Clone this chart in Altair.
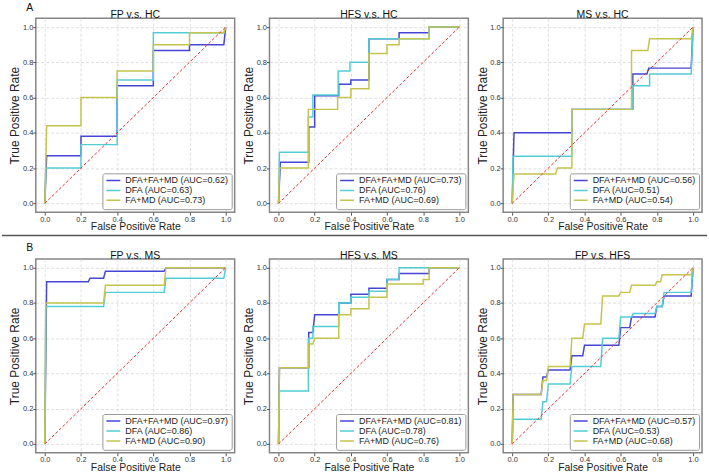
import altair as alt
import pandas as pd

# ---- ROC curve vertices (false positive rate / true positive rate) ----
# FP v.s. HC
fp_hc_all_x = [0, 0.01, 0.2, 0.2, 0.4, 0.4, 0.6, 0.6, 0.8, 0.8, 0.99, 1.0]
fp_hc_all_y = [0, 0.27, 0.27, 0.38, 0.38, 0.667, 0.667, 0.867, 0.867, 0.9, 0.9, 1.0]
fp_hc_dfa_x = [0, 0.005, 0.2, 0.2, 0.4, 0.4, 0.6, 0.6, 0.99, 1.0]
fp_hc_dfa_y = [0, 0.2, 0.2, 0.333, 0.333, 0.7, 0.7, 0.967, 0.967, 1.0]
fp_hc_famd_x = [0, 0.01, 0.2, 0.2, 0.4, 0.4, 0.6, 0.6, 0.8, 0.8, 0.99, 1.0]
fp_hc_famd_y = [0, 0.44, 0.44, 0.6, 0.6, 0.75, 0.75, 0.9, 0.9, 0.967, 0.967, 1.0]

# HFS v.s. HC
hfs_hc_all_x = [0, 0.01, 0.167, 0.167, 0.2, 0.2, 0.333, 0.333, 0.4, 0.4, 0.5, 0.5, 0.667, 0.667, 0.833, 0.833, 1.0]
hfs_hc_all_y = [0, 0.233, 0.233, 0.433, 0.433, 0.61, 0.61, 0.675, 0.675, 0.7, 0.7, 0.933, 0.933, 0.967, 0.967, 1.0, 1.0]
hfs_hc_dfa_x = [0, 0.005, 0.165, 0.165, 0.19, 0.19, 0.33, 0.33, 0.395, 0.395, 0.5, 0.5, 0.833, 0.833, 1.0]
hfs_hc_dfa_y = [0, 0.29, 0.29, 0.49, 0.49, 0.615, 0.615, 0.75, 0.75, 0.8, 0.8, 0.933, 0.933, 1.0, 1.0]
hfs_hc_famd_x = [0, 0.005, 0.165, 0.165, 0.327, 0.327, 0.4, 0.4, 0.5, 0.5, 0.6, 0.6, 0.667, 0.667, 0.833, 0.833, 1.0]
hfs_hc_famd_y = [0, 0.2, 0.2, 0.533, 0.533, 0.6, 0.6, 0.65, 0.65, 0.85, 0.85, 0.9, 0.9, 0.933, 0.933, 1.0, 1.0]

# MS v.s. HC
ms_hc_all_x = [0, 0.01, 0.33, 0.33, 0.667, 0.667, 0.745, 0.755, 0.99, 1.0]
ms_hc_all_y = [0, 0.4, 0.4, 0.533, 0.533, 0.733, 0.733, 0.767, 0.767, 1.0]
ms_hc_dfa_x = [0, 0.005, 0.33, 0.33, 0.667, 0.667, 0.76, 0.76, 0.99, 1.0]
ms_hc_dfa_y = [0, 0.267, 0.267, 0.533, 0.533, 0.667, 0.667, 0.733, 0.733, 1.0]
ms_hc_famd_x = [0, 0.01, 0.24, 0.25, 0.33, 0.33, 0.66, 0.66, 0.75, 0.76, 0.99, 1.0]
ms_hc_famd_y = [0, 0.167, 0.167, 0.2, 0.2, 0.533, 0.533, 0.867, 0.867, 0.933, 0.933, 1.0]

# FP v.s. MS
fp_ms_all_x = [0, 0.01, 0.24, 0.25, 0.325, 0.335, 0.66, 0.67, 1.0]
fp_ms_all_y = [0, 0.92, 0.92, 0.94, 0.94, 0.98, 0.98, 1.0, 1.0]
fp_ms_dfa_x = [0, 0.005, 0.325, 0.335, 0.66, 0.67, 0.99, 1.0]
fp_ms_dfa_y = [0, 0.78, 0.78, 0.86, 0.86, 0.94, 0.94, 1.0]
fp_ms_famd_x = [0, 0.005, 0.325, 0.335, 0.66, 0.67, 1.0]
fp_ms_famd_y = [0, 0.8, 0.8, 0.9, 0.9, 1.0, 1.0]

# HFS v.s. MS
hfs_ms_all_x = [0, 0.005, 0.167, 0.167, 0.19, 0.2, 0.333, 0.333, 0.4, 0.4, 0.5, 0.5, 0.6, 0.6, 0.667, 0.667, 0.833, 0.833, 1.0]
hfs_ms_all_y = [0, 0.433, 0.433, 0.633, 0.633, 0.733, 0.733, 0.8, 0.8, 0.85, 0.85, 0.883, 0.883, 0.933, 0.933, 0.967, 0.967, 1.0, 1.0]
hfs_ms_dfa_x = [0, 0.005, 0.165, 0.165, 0.19, 0.19, 0.333, 0.333, 0.4, 0.4, 0.5, 0.5, 0.6, 0.6, 0.667, 0.667, 1.0]
hfs_ms_dfa_y = [0, 0.3, 0.3, 0.6, 0.6, 0.667, 0.667, 0.8, 0.8, 0.833, 0.833, 0.867, 0.867, 0.933, 0.933, 1.0, 1.0]
hfs_ms_famd_x = [0, 0.005, 0.165, 0.165, 0.19, 0.2, 0.333, 0.333, 0.4, 0.4, 0.5, 0.5, 0.6, 0.6, 0.8, 0.8, 0.833, 0.833, 1.0]
hfs_ms_famd_y = [0, 0.433, 0.433, 0.567, 0.567, 0.6, 0.6, 0.733, 0.733, 0.767, 0.767, 0.833, 0.833, 0.907, 0.907, 0.933, 0.933, 1.0, 1.0]

# FP v.s. HFS
fp_hfs_all_x = [0, 0.005, 0.16, 0.17, 0.19, 0.2, 0.32, 0.33, 0.39, 0.4, 0.59, 0.6, 0.65, 0.66, 0.79, 0.8, 0.83, 0.84, 0.99, 1.0]
fp_hfs_all_y = [0, 0.28, 0.28, 0.38, 0.38, 0.42, 0.42, 0.5, 0.5, 0.56, 0.56, 0.66, 0.66, 0.72, 0.72, 0.78, 0.78, 0.84, 0.84, 1.0]
fp_hfs_dfa_x = [0, 0.005, 0.16, 0.17, 0.19, 0.2, 0.32, 0.33, 0.49, 0.5, 0.59, 0.6, 0.66, 0.67, 0.79, 0.8, 0.83, 0.84, 0.99, 1.0]
fp_hfs_dfa_y = [0, 0.14, 0.14, 0.24, 0.24, 0.34, 0.34, 0.44, 0.44, 0.6, 0.6, 0.72, 0.72, 0.74, 0.74, 0.78, 0.78, 0.86, 0.86, 1.0]
fp_hfs_famd_x = [0, 0.005, 0.16, 0.17, 0.19, 0.2, 0.32, 0.33, 0.39, 0.4, 0.49, 0.5, 0.59, 0.6, 0.65, 0.66, 0.79, 0.8, 0.82, 0.83, 0.99, 1.0]
fp_hfs_famd_y = [0, 0.28, 0.28, 0.36, 0.36, 0.44, 0.44, 0.6, 0.6, 0.68, 0.68, 0.84, 0.84, 0.86, 0.86, 0.9, 0.9, 0.92, 0.92, 0.96, 0.96, 1.0]

# ---- panel titles, model names, AUC values ----
panel_titles = ["FP v.s. HC", "HFS v.s. HC", "MS v.s. HC", "FP v.s. MS", "HFS v.s. MS", "FP v.s. HFS"]
model_names = ["DFA+FA+MD", "DFA", "FA+MD"]
auc_values = [
    [0.62, 0.63, 0.73],
    [0.73, 0.76, 0.69],
    [0.56, 0.51, 0.54],
    [0.97, 0.86, 0.90],
    [0.81, 0.78, 0.76],
    [0.57, 0.53, 0.68],
]
model_colors = ["#4646d6", "#52cdd6", "#c4c44e"]

curves = [
    [(fp_hc_all_x, fp_hc_all_y), (fp_hc_dfa_x, fp_hc_dfa_y), (fp_hc_famd_x, fp_hc_famd_y)],
    [(hfs_hc_all_x, hfs_hc_all_y), (hfs_hc_dfa_x, hfs_hc_dfa_y), (hfs_hc_famd_x, hfs_hc_famd_y)],
    [(ms_hc_all_x, ms_hc_all_y), (ms_hc_dfa_x, ms_hc_dfa_y), (ms_hc_famd_x, ms_hc_famd_y)],
    [(fp_ms_all_x, fp_ms_all_y), (fp_ms_dfa_x, fp_ms_dfa_y), (fp_ms_famd_x, fp_ms_famd_y)],
    [(hfs_ms_all_x, hfs_ms_all_y), (hfs_ms_dfa_x, hfs_ms_dfa_y), (hfs_ms_famd_x, hfs_ms_famd_y)],
    [(fp_hfs_all_x, fp_hfs_all_y), (fp_hfs_dfa_x, fp_hfs_dfa_y), (fp_hfs_famd_x, fp_hfs_famd_y)],
]

chance_line = pd.DataFrame({"fpr": [0.0, 1.0], "tpr": [0.0, 1.0]})
tick_values = [0, 0.2, 0.4, 0.6, 0.8, 1.0]
FONT = "Liberation Sans"
PW, PH = 200, 195

x_scale = alt.Scale(domain=[-0.05, 1.05], nice=False, zero=False)
y_scale = alt.Scale(domain=[-0.05, 1.05], nice=False, zero=False)


def roc_panel(i, panel_tag=None, divider=False):
    labels = [f"{m} (AUC={a:.2f})" for m, a in zip(model_names, auc_values[i])]
    color = alt.Color(
        "model:N",
        scale=alt.Scale(domain=labels, range=model_colors),
        legend=alt.Legend(
            title=None,
            orient="bottom-right",
            offset=3,
            padding=3,
            symbolType="stroke",
            symbolSize=196,
            symbolStrokeWidth=1.5,
            labelFontSize=9,
            labelFont=FONT,
            labelColor="#222222",
            labelOffset=4,
            clipHeight=8.3,
            rowPadding=-3,
        ),
    )
    x = alt.X("fpr:Q", scale=x_scale,
              axis=alt.Axis(title="False Positive Rate", values=tick_values, format=".1f"))
    y = alt.Y("tpr:Q", scale=y_scale,
              axis=alt.Axis(title="True Positive Rate", values=tick_values, format=".1f"))

    layers = []
    for k, (xs, ys) in enumerate(curves[i]):
        d = pd.DataFrame({"fpr": xs, "tpr": ys, "model": labels[k], "step": range(len(xs))})
        layers.append(
            alt.Chart(d).mark_line(strokeWidth=1.5).encode(
                x=x, y=y, color=color, order="step:Q"
            )
        )
    layers.append(
        alt.Chart(chance_line).mark_line(color="#ee2b2b", strokeWidth=1, strokeDash=[3, 2]).encode(
            x=x, y=y
        )
    )
    title = alt.TitleParams(panel_titles[i], dy=3)
    if panel_tag:
        layers.append(
            alt.Chart(pd.DataFrame({"tag": [panel_tag]})).mark_text(
                font=FONT, fontSize=10.5, align="center", baseline="middle", color="#111111"
            ).encode(text="tag:N", x=alt.value(-6), y=alt.value(-10.5))
        )
        # the row tag sits above the panel title's baseline, so pull the title back down
        title = alt.TitleParams(panel_titles[i], dy=18.5)
    if divider:
        layers.append(
            alt.Chart(pd.DataFrame({"v": [0]})).mark_rule(color="#555555", strokeWidth=1.5).encode(
                x=alt.value(-34), x2=alt.value(675), y=alt.value(218.5)
            )
        )
    return alt.layer(*layers).properties(width=PW, height=PH, title=title)


panels = [
    roc_panel(0, "A", divider=True), roc_panel(1), roc_panel(2),
    roc_panel(3, "B"), roc_panel(4), roc_panel(5),
]

chart = (
    alt.concat(*panels, columns=3, spacing={"row": 47, "column": 35}, bounds="flush")
    .resolve_scale(color="independent")
    .properties(padding={"left": 0, "top": 0, "right": 0, "bottom": 0}, background="white")
    .configure_view(stroke="#858585", strokeWidth=1.5)
    .configure_axis(
        domain=False,
        grid=True,
        gridColor="#d6d6d6",
        gridDash=[3, 2],
        gridWidth=0.8,
        tickColor="#555555",
        tickSize=3,
        labelFont=FONT,
        labelFontSize=7.5,
        labelColor="#333333",
        labelPadding=0,
        titleFont=FONT,
        titleFontWeight="normal",
        titleColor="#222222",
    )
    .configure_axisX(titleFontSize=10.5, titlePadding=-1)
    .configure_axisY(titleFontSize=12, titlePadding=0.5)
    .configure_title(font=FONT, fontSize=10.5, fontWeight="normal", color="#111111", offset=0.5)
    .configure_legend(strokeColor="#9a9a9a", fillColor="white", cornerRadius=2)
)

chart.save("out.html", embed_options={"renderer": "svg", "actions": False})
